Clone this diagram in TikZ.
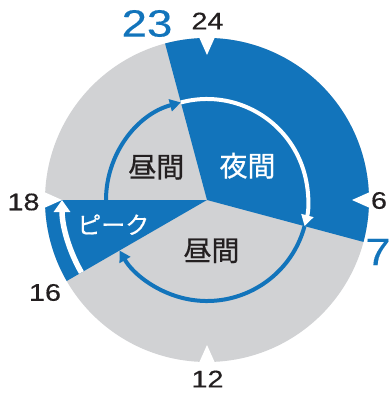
\documentclass[tikz,border=0pt]{standalone}
\usepackage{fontspec}
\setmainfont{Liberation Sans}[FakeBold=0.3]
\newfontfamily\jp{Noto Sans CJK JP}[FakeBold=0.6]
\usetikzlibrary{arrows.meta}
\definecolor{cblue}{RGB}{18,116,187}
\definecolor{cgrey}{RGB}{209,210,212}
\definecolor{ctext}{RGB}{35,31,32}
\begin{document}
\begin{tikzpicture}[x=1pt,y=1pt,
  num/.style={text=ctext, font=\fontsize{24}{24}\selectfont, xscale=1.2, inner sep=0},
  bignum/.style={text=cblue, font=\fontsize{38}{38}\selectfont, xscale=1.2, inner sep=0},
  jlabel/.style={font=\jp\fontsize{28}{28}\selectfont, inner sep=0},
  barrow/.style={cblue, line width=4pt, -{Triangle[length=11pt,width=12pt]}},
  warrow/.style={white, line width=4pt, -{Triangle[length=11pt,width=12pt]}},
  wbigarrow/.style={white, line width=5.5pt, -{Triangle[length=12pt,width=16pt]}},
  marker/.style={fill=white}]
\useasboundingbox (-207,-194) rectangle (184,200);
% sectors
\fill[cgrey] (0,0) circle[radius=162];
\fill[cblue] (0,0) -- (105:162) arc[start angle=105,end angle=-15,radius=162] -- cycle;
\fill[cblue] (0,0) -- (210:162) arc[start angle=210,end angle=180,radius=162] -- cycle;
% cycle arrows
\draw[barrow] (180:101) arc[start angle=180,end angle=105,radius=101];
\draw[warrow] (105:101) arc[start angle=105,end angle=-15,radius=101];
\draw[barrow] (-15:101) arc[start angle=-15,end angle=-150,radius=101];
\draw[wbigarrow] (210:145) arc[start angle=210,end angle=180,radius=145];
% hour markers
\foreach \a in {90,0,-90,180}{
  \fill[marker,rotate=\a] (145,0) -- (164,8.5) -- (164,-8.5) -- cycle;
}
% labels
\node[jlabel, text=ctext] (dayA) at (-50.7,32.7) {昼間};
\node[jlabel, text=white] (night) at (40.5,34.3) {夜間};
\node[jlabel, text=ctext] (dayB) at (4.5,-50.8) {昼間};
\node[jlabel, text=white, font=\jp\fontsize{24}{24}\selectfont] (peak) at (-93.7,-24.7) {ピーク};
% hour numbers
\node[bignum] (h23) at (-60,176.5) {23};
\node[num] (h24) at (0.5,179) {24};
\node[num] (h6) at (172,-0.5) {6};
\node[bignum] (h7) at (171,-52) {7};
\node[num] (h12) at (0.5,-179) {12};
\node[num] (h18) at (-183.5,-2) {18};
\node[num] (h16) at (-162,-92.5) {16};
\end{tikzpicture}
\end{document}
